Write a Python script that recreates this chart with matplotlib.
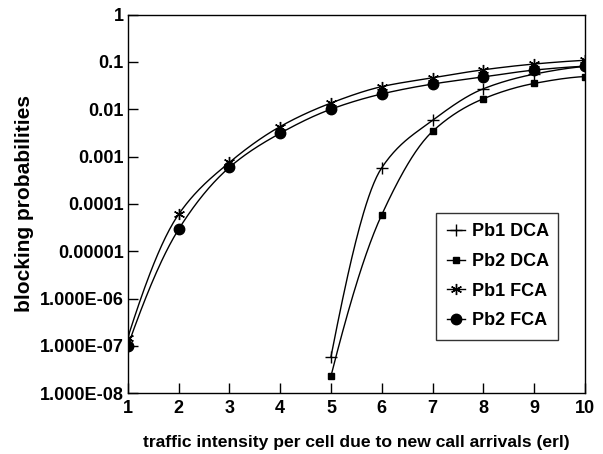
import numpy as np
import matplotlib
matplotlib.use("Agg")
import matplotlib.pyplot as plt

plt.rcParams['font.family'] = ['Liberation Sans', 'DejaVu Sans']
plt.rcParams['font.weight'] = 'bold'

x_fca = [1, 2, 3, 4, 5, 6, 7, 8, 9, 10]
pb1_fca = [1.5e-7, 6.0e-5, 7.5e-4, 4.3e-3, 1.35e-2, 3.0e-2, 4.6e-2, 6.8e-2, 9.0e-2, 1.08e-1]
pb2_fca = [1.0e-7, 2.9e-5, 5.9e-4, 3.1e-3, 1.0e-2, 2.1e-2, 3.4e-2, 4.8e-2, 6.7e-2, 8.1e-2]
x_dca = [5, 6, 7, 8, 9, 10]
pb1_dca = [5.9e-8, 5.8e-4, 5.8e-3, 2.7e-2, 5.5e-2, 8.0e-2]
pb2_dca = [2.3e-8, 5.9e-5, 3.4e-3, 1.66e-2, 3.5e-2, 4.9e-2]

ytick_vals = [1e-8, 1e-7, 1e-6, 1e-5, 1e-4, 1e-3, 1e-2, 1e-1, 1]
ytick_labels = ['1.000E-08', '1.000E-07', '1.000E-06', '0.00001', '0.0001',
                '0.001', '0.01', '0.1', '1']
xticks = [1, 2, 3, 4, 5, 6, 7, 8, 9, 10]


def pchip_curve(xs, ys, n=40):
    """Monotone cubic (PCHIP) through the points in log-y space, for drawing the line."""
    x = np.asarray(xs, float)
    y = np.log10(np.asarray(ys, float))
    h = np.diff(x)
    d = np.diff(y) / h
    m = np.zeros_like(y)
    for k in range(1, len(x) - 1):
        if d[k - 1] * d[k] <= 0:
            m[k] = 0.0
        else:
            w1 = 2 * h[k] + h[k - 1]
            w2 = h[k] + 2 * h[k - 1]
            m[k] = (w1 + w2) / (w1 / d[k - 1] + w2 / d[k])

    def end(h0, h1, d0, d1):
        v = ((2 * h0 + h1) * d0 - h0 * d1) / (h0 + h1)
        if np.sign(v) != np.sign(d0):
            v = 0.0
        elif np.sign(d0) != np.sign(d1) and abs(v) > abs(3 * d0):
            v = 3 * d0
        return v

    m[0] = end(h[0], h[1], d[0], d[1])
    m[-1] = end(h[-1], h[-2], d[-1], d[-2])
    XX, YY = [], []
    for k in range(len(x) - 1):
        t = np.linspace(0, 1, n)
        h00 = 2 * t ** 3 - 3 * t ** 2 + 1
        h10 = t ** 3 - 2 * t ** 2 + t
        h01 = -2 * t ** 3 + 3 * t ** 2
        h11 = t ** 3 - t ** 2
        XX.append(x[k] + t * h[k])
        YY.append(h00 * y[k] + h10 * h[k] * m[k] + h01 * y[k + 1] + h11 * h[k] * m[k + 1])
    return np.concatenate(XX), 10 ** np.concatenate(YY)


fig = plt.figure(figsize=(6.03, 4.54), dpi=100)
ax = fig.add_axes([0.212, 0.134, 0.758, 0.834])

series = [
    ('Pb1 DCA', x_dca, pb1_dca, dict(marker='+', markersize=9, markeredgewidth=1.0)),
    ('Pb2 DCA', x_dca, pb2_dca, dict(marker='s', markersize=4.5)),
    ('Pb1 FCA', x_fca, pb1_fca, dict(marker=(6, 2, 0), markersize=8, markeredgewidth=1.0)),
    ('Pb2 FCA', x_fca, pb2_fca, dict(marker='o', markersize=7.5)),
]
for name, xs, ys, mk in series:
    sx, sy = pchip_curve(xs, ys)
    ax.plot(sx, sy, color='black', lw=1.0)
    ax.plot(xs, ys, linestyle='none', color='black', **mk)
    ax.plot([], [], color='black', lw=1.0, label=name, **mk)

ax.set_yscale('log')
ax.set_xlim(1, 10)
ax.set_ylim(1e-8, 1)
ax.set_yticks(ytick_vals)
ax.set_yticklabels(ytick_labels)
ax.yaxis.set_minor_locator(matplotlib.ticker.NullLocator())
ax.set_xticks(xticks)
ax.set_xticklabels([str(v) for v in xticks])
ax.tick_params(direction='in', length=7, width=1, labelsize=13)
ax.tick_params(axis='y', pad=3)
ax.tick_params(axis='x', pad=5)
for sp in ax.spines.values():
    sp.set_linewidth(1.0)

ax.set_xlabel('traffic intensity per cell due to new call arrivals (erl)',
              fontsize=12.6, fontweight='bold', labelpad=13)
ax.set_ylabel('blocking probabilities', fontsize=15, fontweight='bold', labelpad=4)

leg = ax.legend(loc='lower left', bbox_to_anchor=(0.674, 0.14, 0.267, 0.344),
                mode='expand', frameon=True, fancybox=False, fontsize=13,
                handlelength=1.0, handletextpad=0.4, borderpad=0.6,
                labelspacing=0.7, borderaxespad=0)
leg.get_frame().set_edgecolor('black')
leg.get_frame().set_linewidth(1.0)

fig.savefig('out.png', dpi=100)
